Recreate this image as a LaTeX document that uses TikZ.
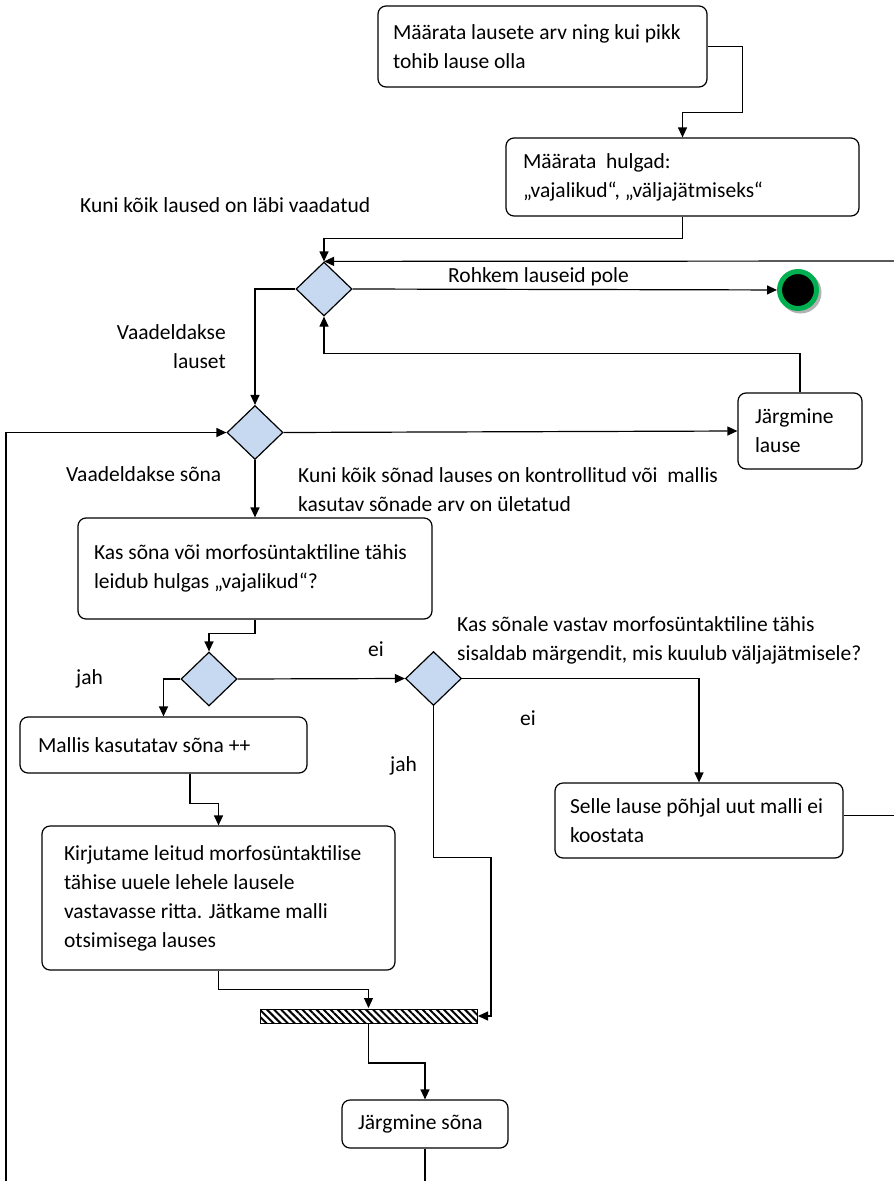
\documentclass[tikz,border=0pt]{standalone}
\usepackage{fontspec}
\setmainfont{Carlito}
\usetikzlibrary{shapes.geometric,arrows.meta,patterns.meta}
\definecolor{decblue}{HTML}{C6D9F1}
\definecolor{endgreen}{HTML}{00B050}

\begin{document}
\begin{tikzpicture}[x=1pt, y=-1pt,
    every node/.style={font=\fontsize{21.5}{29}\selectfont},
    box/.style={draw, rounded corners=8pt, line width=1.2pt, inner xsep=18pt, align=flush left},
    dec/.style={diamond, draw, fill=decblue, line width=1.2pt, minimum width=56pt, minimum height=54pt, inner sep=0pt},
    lopp/.style={circle, fill=black, draw=endgreen, line width=5pt, minimum size=37pt, inner sep=0pt},
    riba/.style={draw, line width=1pt, minimum width=217pt, minimum height=14pt, inner sep=0pt,
        pattern={Lines[angle=-45, distance=5pt, line width=2pt]}},
    lbl/.style={inner sep=0pt},
    conn/.style={line width=1.2pt, -{Triangle[length=10pt, width=9pt]}},
    line/.style={line width=1.2pt}]
    \useasboundingbox (0,0) rectangle (894,1181);
    % kastid
    \node[box, minimum width=329pt, minimum height=81pt, text width=299pt, inner xsep=15pt] (maara) at (542.5,46.5)
        {Määrata lausete arv ning kui pikk\\tohib lause olla};
    \node[box, minimum width=353pt, minimum height=78pt, text width=319pt, inner xsep=17pt] (hulgad) at (682.5,177)
        {Määrata~ hulgad:\\„vajalikud“, „väljajätmiseks“};
    \node[box, minimum width=124pt, minimum height=76pt, text width=90pt, inner xsep=17pt] (jlause) at (800,431)
        {Järgmine\\lause};
    \node[box, minimum width=354pt, minimum height=101pt, text width=322pt, inner xsep=16pt] (kontroll) at (255,568.5)
        {Kas sõna või morfosüntaktiline tähis\\leidub hulgas „vajalikud“?};
    \node[box, minimum width=287pt, minimum height=56pt, text width=251pt] (mallis) at (163.5,745)
        {Mallis kasutatav sõna ++};
    \node[box, minimum width=353pt, minimum height=144pt, text width=309pt, inner xsep=22pt] (kirjuta) at (218.5,898)
        {Kirjutame leitud morfosüntaktilise\\tähise uuele lehele lausele\\vastavasse ritta. Jätkame malli\\otsimisega lauses};
    \node[box, minimum width=288pt, minimum height=75pt, text width=258pt, inner xsep=15pt] (selle) at (699,820.5)
        {Selle lause põhjal uut malli ei\\koostata};
    \node[box, minimum width=166pt, minimum height=48pt, text width=134pt, inner xsep=16pt] (jsona) at (425,1124)
        {Järgmine sõna};
    % otsused
    \node[dec] (lausedec) at (324,289) {};
    \node[dec] (sonadec) at (255,432.5) {};
    \node[dec] (vajdec) at (209,679) {};
    \node[dec] (valjdec) at (433.5,678.5) {};
    % lopp ja riba
    \fill[black!30] (800.5,292.5) circle (21pt);
    \node[lopp] (lopp) at (798,290) {};
    \node[riba] (riba) at (368.5,1016) {};
    \coordinate (tagasi) at (894,261);
    \coordinate (vasak) at (6,1181);
    % sildid
    \node[lbl, anchor=west] (kunilaused) at (80,205) {Kuni kõik laused on läbi vaadatud};
    \node[lbl, anchor=west] (rohkem) at (448,277) {Rohkem lauseid pole};
    \node[lbl, anchor=east, align=right] (vlause) at (226,347) {Vaadeldakse\\lauset};
    \node[lbl, anchor=west] (vsona) at (66,474) {Vaadeldakse sõna};
    \node[lbl, anchor=west, align=left] (kunisonad) at (298,489.5)
        {Kuni kõik sõnad lauses on kontrollitud või~ mallis\\kasutav sõnade arv on ületatud};
    \node[lbl, anchor=west] (jah1) at (76,679) {jah};
    \node[lbl, anchor=west] (ei1) at (368,649) {ei};
    \node[lbl, anchor=west, align=left] (kassonale) at (457,640)
        {Kas sõnale vastav morfosüntaktiline tähis\\sisaldab märgendit, mis kuulub väljajätmisele?};
    \node[lbl, anchor=west] (ei2) at (520,718) {ei};
    \node[lbl, anchor=west] (jah2) at (390,766) {jah};
    % seosed
    \draw[conn] (maara.east) -- ++(35,0) |- ([yshift=25pt]hulgad.north) -- (hulgad.north);
    \draw[conn] (hulgad.south) -- ++(0,22) -| (lausedec.north);
    \draw[conn] (tagasi) -- (lausedec.north);
    \draw[conn] (lausedec.east) -- (lopp);
    \draw[conn] (lausedec.west) -| (sonadec.north);
    \draw[conn] (jlause.north) -- ++(0,-39) -| (lausedec.south);
    \draw[conn] (sonadec.east) -- (jlause.west);
    \draw[conn] (vasak) |- (sonadec.west);
    \draw[conn] (sonadec.south) -- (kontroll.north);
    \draw[conn] (kontroll.south) -- ++(0,14) -| (vajdec.north);
    \draw[conn] (vajdec.west) -| (mallis.north);
    \draw[conn] (vajdec.east) -- (valjdec.west);
    \draw[conn] (valjdec.east) -| (selle.north);
    \draw[line] ([yshift=5pt]selle.east) -- ++(51,0);
    \draw[conn] (valjdec.south) -- ++(0,151) -| ([xshift=13pt]riba.east) -- (riba.east);
    \draw[conn] ([xshift=26.5pt]mallis.south) -- ++(0,30) -| (kirjuta.north);
    \draw[conn] (kirjuta.south) -- ++(0,19) -| (riba.north);
    \draw[conn] (riba.south) -- ++(0,39) -| (jsona.north);
    \draw[line] (jsona.south) -- ++(0,33);
\end{tikzpicture}
\end{document}
